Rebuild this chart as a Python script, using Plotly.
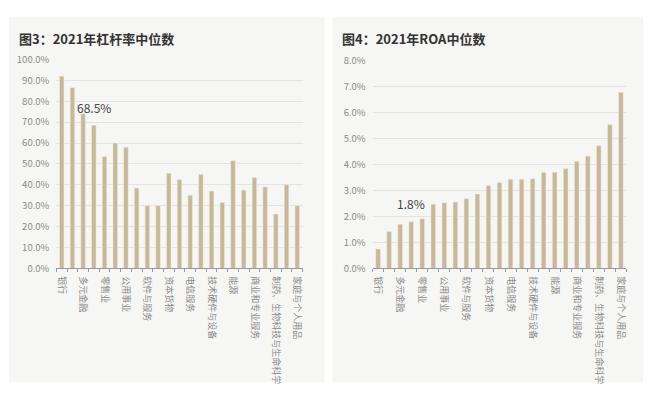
import plotly.graph_objects as go

# ---- data ----
tick_labels = ["银行", "多元金融", "零售业", "公用事业", "软件与服务", "资本货物",
               "电信服务", "技术硬件与设备", "能源", "商业和专业服务",
               "制药、生物科技与生命科学", "家庭与个人用品"]
leverage = [0.92, 0.865, 0.74, 0.685, 0.535, 0.60, 0.58, 0.385, 0.30, 0.30,
            0.455, 0.425, 0.35, 0.45, 0.37, 0.315, 0.515, 0.375, 0.435, 0.39,
            0.26, 0.40, 0.30]
roa = [0.0075, 0.0142, 0.0170, 0.0180, 0.0191, 0.0247, 0.0253, 0.0255, 0.0268,
       0.0286, 0.0319, 0.0330, 0.0343, 0.0343, 0.0345, 0.0370, 0.0370, 0.0384,
       0.0412, 0.0432, 0.0472, 0.0553, 0.0677]
lev_label_idx = 3
roa_label_idx = 3

W, H = 650, 395
BAR = "#cab895"
GRID = "#e4e4e2"
TXT = "#8a8a8a"
FONT = "Noto Sans CJK SC"

xs = list(range(len(leverage)))
tickvals = xs[::2]

fig = go.Figure()
fig.add_trace(go.Bar(x=xs, y=leverage, marker_color=BAR, width=0.42,
                     xaxis="x", yaxis="y", showlegend=False, hoverinfo="y"))
fig.add_trace(go.Bar(x=list(range(len(roa))), y=roa, marker_color=BAR, width=0.42,
                     xaxis="x2", yaxis="y2", showlegend=False, hoverinfo="y"))

def px(x):
    return x / W

def py(y):
    return (H - y) / H

n = len(leverage)
xaxis_common = dict(
    range=[-0.5, n - 0.5], tickmode="array", tickvals=tickvals,
    ticktext=tick_labels, tickangle=90, ticks="", showgrid=False,
    showline=True, linecolor="#9a9a9a", linewidth=1, zeroline=False,
    ticklabelstandoff=5,
    tickfont=dict(family=FONT, size=9, color=TXT),
    minor=dict(tickmode="linear", tick0=-0.5, dtick=1, ticks="outside",
               ticklen=3, tickcolor="#9a9a9a", showgrid=False),
    fixedrange=True,
)

fig.update_layout(
    width=W, height=H,
    margin=dict(l=0, r=0, t=0, b=0),
    paper_bgcolor="white", plot_bgcolor="rgba(0,0,0,0)",
    bargap=0.58,
    font=dict(family=FONT, color=TXT),
    xaxis=dict(domain=[px(55.6), px(303)], anchor="y", **xaxis_common),
    yaxis=dict(domain=[py(270), py(53.3)], range=[0, 1.0], dtick=0.1,
               tickformat=".1%", showgrid=True, gridcolor=GRID, gridwidth=1,
               zeroline=False, showline=False, ticks="", ticklabelstandoff=6,
               tickfont=dict(family=FONT, size=9.5, color=TXT), anchor="x",
               fixedrange=True),
    xaxis2=dict(domain=[px(373.3), px(628.3)], anchor="y2", **xaxis_common),
    yaxis2=dict(domain=[py(270), py(54.3)], range=[0, 0.08], dtick=0.01,
                tickformat=".1%", showgrid=True, gridcolor=GRID, gridwidth=1,
                zeroline=False, showline=False, ticks="", ticklabelstandoff=6,
                tickfont=dict(family=FONT, size=9.5, color=TXT), anchor="x2",
                fixedrange=True),
    shapes=[
        dict(type="rect", xref="paper", yref="paper", layer="below",
             x0=px(8), x1=px(325), y0=py(388), y1=py(9),
             fillcolor="#f6f6f4", line=dict(width=0)),
        dict(type="rect", xref="paper", yref="paper", layer="below",
             x0=px(333), x1=px(645), y0=py(388), y1=py(9),
             fillcolor="#f6f6f4", line=dict(width=0)),
    ],
    annotations=[
        dict(text="<b>图3：2021年杠杆率中位数</b>", xref="paper", yref="paper",
             x=px(16), y=py(31.7), xanchor="left", yanchor="middle",
             showarrow=False, font=dict(family=FONT, size=13, color="#333333")),
        dict(text="<b>图4：2021年ROA中位数</b>", xref="paper", yref="paper",
             x=px(341), y=py(31.7), xanchor="left", yanchor="middle",
             showarrow=False, font=dict(family=FONT, size=13, color="#333333")),
        dict(text=f"{leverage[lev_label_idx]:.1%}", xref="x", yref="y",
             x=lev_label_idx, y=leverage[lev_label_idx], xanchor="center",
             yanchor="bottom", yshift=7, showarrow=False,
             font=dict(family=FONT, size=12, color="#444444")),
        dict(text=f"{roa[roa_label_idx]:.1%}", xref="x2", yref="y2",
             x=roa_label_idx, y=roa[roa_label_idx], xanchor="center",
             yanchor="bottom", yshift=8, showarrow=False,
             font=dict(family=FONT, size=12, color="#444444")),
    ],
)

fig.write_html("out.html", config={"displayModeBar": False},
               post_script="document.body.style.margin='0';document.body.style.overflow='hidden';")
